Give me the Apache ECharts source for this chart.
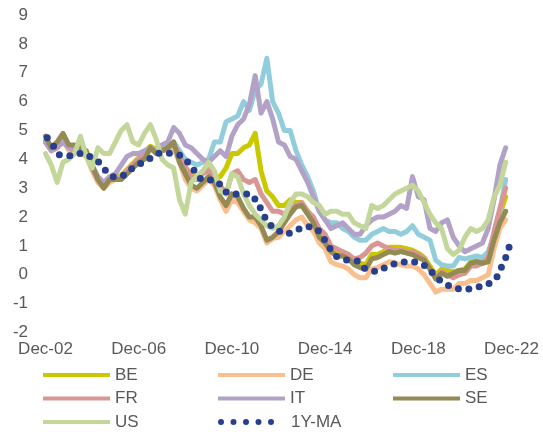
<!DOCTYPE html>
<html><head><meta charset="utf-8">
<script src="https://cdn.jsdelivr.net/npm/echarts@6/dist/echarts.min.js"></script>
<style>html,body{margin:0;padding:0;background:#fff}#c{width:543px;height:437px}</style>
</head><body><div id="c"></div>
<script>
// months since Dec-02 (quarterly samples)
const months = [0,3,6,9,12,15,18,21,24,27,30,33,36,39,42,45,48,51,54,57,60,63,66,69,72,75,78,81,84,87,90,93,96,99,102,105,108,111,114,117,120,123,126,129,132,135,138,141,144,147,150,153,156,159,162,165,168,171,174,177,180,183,186,189,192,195,198,201,204,207,210,213,216,219,222,225,228,231,234,237];
const xTickLabels = ['Dec-02','Dec-06','Dec-10','Dec-14','Dec-18','Dec-22'];
const yTicks = [-2,-1,0,1,2,3,4,5,6,7,8,9];

const BE = [4.65,4.35,4.45,4.65,4.45,4.35,4.35,4.25,3.75,3.35,
3.15,3.35,3.35,3.45,3.65,3.85,4.05,4.25,4.45,4.35,
4.35,4.45,4.55,4.25,3.75,3.45,3.35,3.55,3.65,3.4,
3.4,3.7,4.2,4.2,4.4,4.5,4.9,3.6,2.9,2.7,
2.4,2.4,2.6,2.5,2.5,2.2,1.9,1.4,1.2,0.9,
0.8,0.8,0.7,0.5,0.4,0.35,0.7,0.7,0.8,0.95,
0.95,0.95,0.9,0.85,0.75,0.6,0.3,0.0,0.2,0.15,
0.1,0.15,0.2,0.45,0.5,0.5,0.6,1.4,2.1,2.7];
const DE = [4.7,4.3,4.5,4.7,4.3,4.3,4.2,4.1,3.6,3.2,
3.0,3.2,3.3,3.3,3.5,3.7,3.9,4.1,4.4,4.2,
4.3,4.3,4.4,3.9,3.3,3.0,2.9,3.1,3.3,3.1,
2.6,2.2,2.6,2.5,2.2,1.9,1.8,1.6,1.1,1.25,
1.3,1.5,1.7,1.9,2.0,1.7,1.5,1.1,0.9,0.45,
0.35,0.3,0.2,0.0,-0.1,-0.1,0.2,0.25,0.35,0.45,
0.4,0.35,0.3,0.3,0.2,0.0,-0.3,-0.6,-0.5,-0.5,
-0.5,-0.3,-0.3,-0.2,-0.2,-0.1,0.0,0.9,1.6,1.9];
const ES = [4.6,4.3,4.4,4.6,4.4,4.3,4.3,4.2,3.7,3.3,
3.1,3.3,3.3,3.4,3.6,3.8,4.0,4.2,4.4,4.3,
4.35,4.4,4.6,4.3,4.0,3.9,3.8,3.9,4.0,4.6,
4.6,5.3,5.4,5.5,6.0,5.7,6.4,6.6,7.5,6.0,
5.6,5.0,5.0,4.3,3.8,3.4,2.9,2.2,1.9,1.8,
1.8,1.6,1.5,1.3,1.2,1.2,1.4,1.5,1.6,1.5,
1.5,1.4,1.5,1.7,1.4,1.3,1.2,0.5,0.35,0.3,
0.3,0.6,0.55,0.6,0.65,0.6,0.8,1.4,2.2,3.3];
const FR = [4.6,4.3,4.4,4.6,4.4,4.3,4.3,4.2,3.7,3.3,
3.1,3.3,3.3,3.4,3.6,3.8,4.0,4.2,4.4,4.3,
4.3,4.4,4.5,4.2,3.7,3.4,3.3,3.5,3.6,3.4,
3.1,2.8,3.5,3.6,3.3,3.2,3.3,2.8,2.5,2.2,
2.2,2.1,2.3,2.4,2.5,2.2,2.0,1.6,1.4,1.0,
0.9,0.8,0.7,0.55,0.6,0.75,1.0,1.1,1.0,0.9,
0.85,0.85,0.8,0.8,0.7,0.55,0.2,-0.1,0.1,0.0,
-0.1,0.0,0.05,0.3,0.3,0.4,0.6,1.5,2.3,3.0];
const IT = [4.6,4.3,4.5,4.6,4.4,4.4,4.3,4.2,3.8,3.4,
3.2,3.4,3.5,3.8,4.1,4.2,4.2,4.3,4.4,4.3,
4.5,4.6,5.1,4.9,4.5,4.4,4.2,4.0,3.9,4.1,
4.3,4.1,4.8,5.2,5.4,5.9,6.9,5.6,6.0,5.4,
4.6,4.5,4.1,4.0,3.6,3.2,2.7,2.2,1.9,1.6,
1.7,1.8,1.6,1.4,1.4,1.7,1.9,2.0,2.0,2.1,
2.2,2.4,2.3,3.4,2.7,2.6,1.6,1.5,1.8,1.9,
1.3,1.0,0.8,0.9,1.0,1.1,1.6,2.6,3.8,4.4];
const SE = [4.8,4.4,4.6,4.9,4.5,4.5,4.4,4.3,3.8,3.3,
3.0,3.3,3.3,3.3,3.5,3.7,3.9,4.0,4.4,4.2,
4.3,4.4,4.6,3.9,3.5,3.1,3.0,3.2,3.4,3.2,
2.7,2.4,2.8,2.7,2.3,2.0,2.0,1.7,1.2,1.3,
1.5,1.8,2.1,2.35,2.4,2.1,1.8,1.3,1.1,0.8,
0.65,0.65,0.55,0.35,0.25,0.2,0.55,0.6,0.7,0.8,
0.75,0.8,0.75,0.7,0.6,0.5,0.2,-0.15,0.05,-0.05,
0.05,0.15,0.15,0.4,0.45,0.4,0.45,1.2,1.8,2.2];
const US = [4.2,3.8,3.2,3.9,4.0,4.2,4.8,4.1,3.7,4.4,
4.2,4.2,4.6,5.0,5.2,4.6,4.5,4.9,5.2,4.7,
4.0,3.8,3.7,2.6,2.1,3.2,3.4,3.6,3.9,3.6,
2.9,2.8,3.5,3.4,2.8,2.4,2.1,1.9,1.7,1.6,
1.7,2.0,2.5,2.8,2.8,2.7,2.5,2.4,2.1,2.2,
2.2,2.1,2.1,1.8,1.7,1.6,2.4,2.3,2.4,2.6,
2.8,2.9,3.0,3.1,2.9,2.5,2.1,1.8,1.6,0.9,
0.7,0.85,1.3,1.6,1.5,1.6,1.9,2.7,3.1,3.9];
// 1Y moving average
const maMonths = [0.9,4.4,7.6,13.5,18.6,23.9,28.1,31.7,36.3,41.1,45.1,49.7,54.7,59.8,65.3,70.8,74.4,77.5,81.1,86.8,90.9,94.5,99.8,105.3,108.9,111.8,114.6,118.8,123.7,129.1,134.5,139.3,143.0,146.1,149.4,154.7,160.9,165.0,170.5,175.7,181.2,187.2,193.2,197.5,201.2,205.4,210.5,216.3,222.0,227.5,232.0,234.4,236.9,238.8];
const maValues = [4.75,4.43,4.14,4.12,4.21,4.06,3.86,3.56,3.37,3.48,3.71,3.88,4.06,4.23,4.19,4.09,3.8,3.54,3.28,3.28,3.05,2.8,2.8,2.8,2.51,2.17,1.8,1.59,1.41,1.54,1.67,1.6,1.29,0.96,0.66,0.52,0.47,0.19,0.12,0.28,0.4,0.45,0.4,0.19,-0.08,-0.29,-0.45,-0.5,-0.43,-0.33,-0.12,0.21,0.57,0.97];

const names = ['BE','DE','ES','FR','IT','SE','US'];
const vals = [BE,DE,ES,FR,IT,SE,US];
const colors = ['#CCC800','#FABF8F','#92CDDC','#DA9694','#B3A2C7','#948A54','#C4D79B'];
const maColor = '#283F8F';
const font = '"Liberation Sans", Arial, sans-serif';

const series = names.map((n,i)=>({
  name:n, type:'line', symbol:'none', showSymbol:false, silent:true,
  data: months.map((m,k)=>[m, vals[i][k]]),
  lineStyle:{color:colors[i], width:5, join:'round', cap:'round'},
  itemStyle:{color:colors[i]}
}));
series.push({
  name:'1Y-MA', type:'line', symbol:'none', showSymbol:false, silent:true, smooth:0.3,
  data: maMonths.map((m,k)=>[m, maValues[k]]),
  lineStyle:{color:maColor, width:7, type:[0,10.5], cap:'round'},
  itemStyle:{color:maColor}
});

const textStyle = {color:'#595959', fontSize:17, fontFamily:font, lineHeight:20};
const lg = (data, left, top, extra) => Object.assign({
  data, left, top, orient:'vertical', itemWidth:67, itemHeight:4, itemGap:3.5,
  icon:'rect', selectedMode:false, textStyle, padding:0
}, extra||{});

const dots = 'path://M0,3a3,3 0 1,0 6,0a3,3 0 1,0 -6,0M12.5,3a3,3 0 1,0 6,0a3,3 0 1,0 -6,0M25,3a3,3 0 1,0 6,0a3,3 0 1,0 -6,0M37.5,3a3,3 0 1,0 6,0a3,3 0 1,0 -6,0M50,3a3,3 0 1,0 6,0a3,3 0 1,0 -6,0';

const chart = echarts.init(document.getElementById('c'), null, {renderer:'canvas'});
chart.setOption({
  animation:false,
  grid:{left:45.5, right:31.5, top:15, bottom:104.5, containLabel:false},
  xAxis:{type:'value', min:0, max:240, interval:48,
    axisLine:{show:false}, axisTick:{show:false}, splitLine:{show:false},
    axisLabel:{margin:8, color:'#595959', fontSize:17, fontFamily:font,
      formatter:v=>xTickLabels[Math.round(v/48)]}},
  yAxis:{type:'value', min:yTicks[0], max:yTicks[yTicks.length-1], interval:1,
    axisLine:{show:false}, axisTick:{show:false}, splitLine:{show:false},
    axisLabel:{margin:17.5, color:'#595959', fontSize:17, fontFamily:font}},
  legend:[
    lg(['BE','FR','US'], 43, 365),
    lg(['DE','IT'], 218, 365),
    lg(['ES','SE'], 393, 365),
    lg([{name:'1Y-MA', icon:dots}], 218, 412, {itemWidth:56, itemHeight:6,
      textStyle:Object.assign({}, textStyle, {padding:[0,0,0,12]})})
  ],
  series
});
</script></body></html>
